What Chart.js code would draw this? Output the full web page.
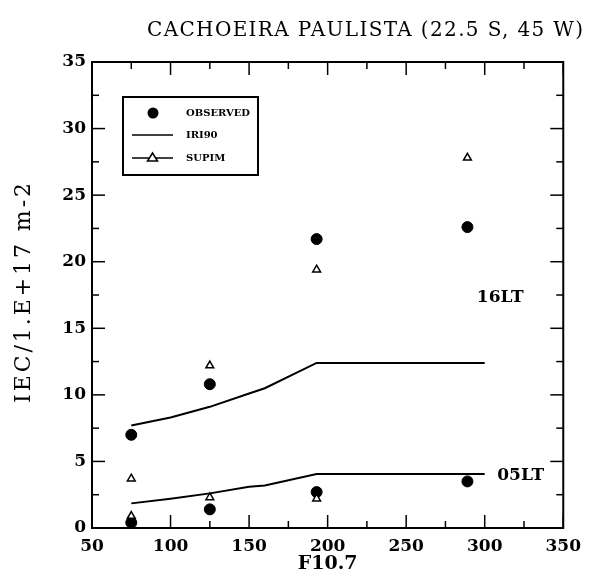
<!DOCTYPE html>
<html>
<head>
<meta charset="utf-8">
<script src="https://cdn.jsdelivr.net/npm/chart.js@4.4.1/dist/chart.umd.min.js"></script>
<style>
  html, body { margin: 0; padding: 0; background: #fff; }
  #wrap { width: 589px; height: 581px; }
</style>
</head>
<body>
<div id="wrap"><canvas id="iecChart" width="589" height="581"></canvas></div>
<script>
// --- data ---
// F10.7 of the observation periods
const f107 = [75, 125, 193, 289];
// observed IEC (1e17 m-2) at 16 LT and 05 LT
const obs16 = [7.0, 10.8, 21.7, 22.6];
const obs05 = [0.4, 1.4, 2.7, 3.5];
// SUPIM model
const supim16 = [3.7, 12.2, 19.4, 27.8];
const supim05 = [0.9, 2.3, 2.2, null];
// IRI90 curves
const iriF107 = [75, 100, 125, 150, 160, 193, 300];
const iri16 = [7.7, 8.3, 9.1, 10.1, 10.5, 12.4, 12.4];
const iri05 = [1.85, 2.2, 2.6, 3.1, 3.2, 4.05, 4.05];

// labelled ticks (minor ones sit halfway between)
const xTicks = [50, 100, 150, 200, 250, 300, 350];
const yTicks = [0, 5, 10, 15, 20, 25, 30, 35];

const SERIF = "'DejaVu Serif', serif";

function pts(xs, ys) {
  return xs.map((x, i) => ({ x: x, y: ys[i] })).filter(p => p.y !== null);
}

// spread a string out to a given width (centred at 0,0)
function spacedText(ctx, text, width) {
  ctx.letterSpacing = '0px';
  const w = ctx.measureText(text).width;
  ctx.letterSpacing = ((width - w) / (text.length - 1)) + 'px';
  ctx.textAlign = 'left';
  ctx.fillText(text, -width / 2, 0);
  ctx.letterSpacing = '0px';
}

// frame, inward ticks, title, axis titles, legend, curve labels
const decorations = {
  id: 'decorations',
  afterDraw(chart) {
    const { ctx, chartArea: a, scales: { x, y } } = chart;
    const seg = (x1, y1, x2, y2) => {
      ctx.beginPath(); ctx.moveTo(x1, y1); ctx.lineTo(x2, y2); ctx.stroke();
    };
    ctx.save();
    ctx.strokeStyle = '#000';
    ctx.fillStyle = '#000';

    ctx.lineWidth = 2;
    ctx.strokeRect(a.left, a.top, a.right - a.left, a.bottom - a.top);

    ctx.lineWidth = 1.5;
    x.ticks.forEach(t => {
      const px = x.getPixelForValue(t.value);
      const len = xTicks.includes(t.value) ? 13 : 7;
      seg(px, a.bottom, px, a.bottom - len);
      seg(px, a.top, px, a.top + len);
    });
    y.ticks.forEach(t => {
      const py = y.getPixelForValue(t.value);
      const len = yTicks.includes(t.value) ? 13 : 7;
      seg(a.left, py, a.left + len, py);
      seg(a.right, py, a.right - len, py);
    });

    ctx.textBaseline = 'middle';

    // title
    ctx.save();
    ctx.translate(365, 31);
    ctx.font = '20px ' + SERIF;
    spacedText(ctx, 'CACHOEIRA PAULISTA (22.5 S, 45 W)', 436);
    ctx.restore();

    // axis titles
    ctx.font = 'bold 19px ' + SERIF;
    ctx.textAlign = 'center';
    ctx.fillText('F10.7', (a.left + a.right) / 2, 564);
    ctx.save();
    ctx.translate(24, (a.top + a.bottom) / 2 - 2);
    ctx.rotate(-Math.PI / 2);
    ctx.font = '22px ' + SERIF;
    spacedText(ctx, 'IEC/1.E+17 m-2', 220);
    ctx.restore();

    // curve labels
    ctx.font = 'bold 17px ' + SERIF;
    ctx.textAlign = 'left';
    ctx.fillText('16LT', x.getPixelForValue(295), y.getPixelForValue(17.3));
    ctx.fillText('05LT', x.getPixelForValue(308), y.getPixelForValue(3.9));

    // legend box
    const lx = a.left + 31, ly = a.top + 35;
    ctx.lineWidth = 2;
    ctx.strokeRect(lx, ly, 135, 78);
    ctx.font = 'bold 10px ' + SERIF;
    ctx.beginPath();
    ctx.arc(lx + 30, ly + 16, 5.5, 0, Math.PI * 2);
    ctx.fill();
    ctx.fillText('OBSERVED', lx + 63, ly + 16);
    ctx.lineWidth = 1.5;
    seg(lx + 9, ly + 38, lx + 50, ly + 38);
    ctx.fillText('IRI90', lx + 63, ly + 38);
    seg(lx + 9, ly + 61, lx + 50, ly + 61);
    ctx.beginPath();
    ctx.moveTo(lx + 29.5, ly + 56);
    ctx.lineTo(lx + 34.5, ly + 64);
    ctx.lineTo(lx + 24.5, ly + 64);
    ctx.closePath();
    ctx.fillStyle = '#fff';
    ctx.fill();
    ctx.stroke();
    ctx.fillStyle = '#000';
    ctx.fillText('SUPIM', lx + 63, ly + 61);
    ctx.restore();
  }
};

const lineStyle = { showLine: true, borderColor: '#000', borderWidth: 2, pointRadius: 0, tension: 0 };
const triStyle = { pointStyle: 'triangle', pointRadius: 4.5, borderColor: '#000', backgroundColor: '#fff', pointBorderWidth: 1.5 };
const dotStyle = { pointStyle: 'circle', pointRadius: 5.5, borderColor: '#000', backgroundColor: '#000' };

const ctx = document.getElementById('iecChart').getContext('2d');
const chart = new Chart(ctx, {
  type: 'scatter',
  data: {
    datasets: [
      Object.assign({ label: 'IRI90 16LT', data: pts(iriF107, iri16) }, lineStyle),
      Object.assign({ label: 'IRI90 05LT', data: pts(iriF107, iri05) }, lineStyle),
      Object.assign({ label: 'SUPIM 16LT', data: pts(f107, supim16) }, triStyle),
      Object.assign({ label: 'SUPIM 05LT', data: pts(f107, supim05) }, triStyle),
      Object.assign({ label: 'OBSERVED 16LT', data: pts(f107, obs16) }, dotStyle),
      Object.assign({ label: 'OBSERVED 05LT', data: pts(f107, obs05) }, dotStyle)
    ]
  },
  options: {
    responsive: false,
    animation: false,
    layout: { padding: { left: 0, top: 62, right: 24, bottom: 0 } },
    plugins: { legend: { display: false }, tooltip: { enabled: false } },
    scales: {
      x: {
        type: 'linear', min: 50, max: 350,
        grid: { display: false, drawTicks: false },
        border: { display: false },
        ticks: {
          stepSize: 25, autoSkip: false, maxRotation: 0, padding: 8,
          color: '#000', font: { family: SERIF, size: 17, weight: 'bold' },
          callback: v => xTicks.includes(v) ? String(v) : ''
        },
        afterFit: s => { s.height = 53; }
      },
      y: {
        type: 'linear', min: 0, max: 35,
        grid: { display: false, drawTicks: false },
        border: { display: false },
        ticks: {
          stepSize: 2.5, autoSkip: false, padding: 6,
          color: '#000', font: { family: SERIF, size: 17, weight: 'bold' },
          callback: v => yTicks.includes(v) ? String(v) : ''
        },
        afterFit: s => { s.width = 92; }
      }
    }
  },
  plugins: [decorations]
});
</script>
</body>
</html>
